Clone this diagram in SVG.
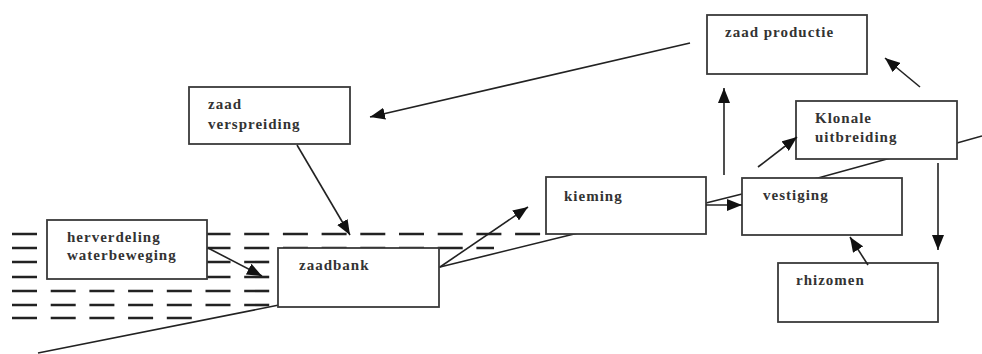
<svg xmlns="http://www.w3.org/2000/svg" width="982" height="354" viewBox="0 0 982 354">
<style>
.box{fill:#fff;stroke:#3a3a3a;stroke-width:1.8}
.t{font-family:"Liberation Serif","Times New Roman",serif;font-size:15px;font-weight:bold;fill:#333;letter-spacing:1px}
.water{stroke:#222;stroke-width:2.6;stroke-dasharray:25 13.7;fill:none}
.ground{stroke:#222;stroke-width:1.6;fill:none}
.c{stroke:#222;stroke-width:1.6;fill:none;marker-end:url(#ah)}
</style>
<defs>
<marker id="ah" markerUnits="userSpaceOnUse" markerWidth="16" markerHeight="12" refX="15" refY="6" orient="auto">
<path d="M0,0 L15,6 L0,12 z" fill="#111"/>
</marker>
</defs>
<g id="water">
<line class="water" x1="12" y1="234" x2="546" y2="234"/>
<line class="water" x1="12" y1="248" x2="494" y2="248"/>
<line class="water" x1="12" y1="262" x2="278" y2="262"/>
<line class="water" x1="12" y1="277" x2="278" y2="277"/>
<line class="water" x1="12" y1="291" x2="278" y2="291"/>
<line class="water" x1="12" y1="305" x2="278" y2="305"/>
<line class="water" x1="12" y1="318" x2="192" y2="318"/>
</g>
<polyline id="ground" class="ground" points="38,353 279,305 440,267 570,235 706,203 742,194 818,178 887,159 957,143 982,136"/>
<g id="herverdeling">
<rect class="box" x="47" y="220" width="160" height="59"/>
<text class="t" x="67" y="242">herverdeling</text>
<text class="t" x="67" y="260">waterbeweging</text>
</g>
<g id="zaadbank">
<rect class="box" x="278" y="248" width="161" height="59"/>
<text class="t" x="299" y="270">zaadbank</text>
</g>
<g id="kieming">
<rect class="box" x="546" y="177" width="160" height="57"/>
<text class="t" x="564" y="201">kieming</text>
</g>
<g id="vestiging">
<rect class="box" x="742" y="178" width="160" height="57"/>
<text class="t" x="763" y="200">vestiging</text>
</g>
<g id="klonale">
<rect class="box" x="796" y="101" width="161" height="58"/>
<text class="t" x="815" y="123">Klonale</text>
<text class="t" x="815" y="142">uitbreiding</text>
</g>
<g id="zaadproductie">
<rect class="box" x="707" y="15" width="160" height="59"/>
<text class="t" x="725" y="37">zaad productie</text>
</g>
<g id="rhizomen">
<rect class="box" x="778" y="263" width="160" height="59"/>
<text class="t" x="796" y="285">rhizomen</text>
</g>
<g id="zaadverspreiding">
<rect class="box" x="189" y="87" width="161" height="57"/>
<text class="t" x="208" y="109">zaad</text>
<text class="t" x="208" y="129">verspreiding</text>
</g>
<g id="connectors">
<line class="c" x1="690" y1="43" x2="370" y2="117"/>
<line class="c" x1="297" y1="145" x2="350" y2="235"/>
<line class="c" x1="208" y1="248" x2="262" y2="276"/>
<line class="c" x1="440" y1="267" x2="528" y2="207"/>
<line class="c" x1="706" y1="205" x2="742" y2="205"/>
<line class="c" x1="724" y1="175" x2="724" y2="88"/>
<line class="c" x1="758" y1="167" x2="797" y2="137"/>
<line class="c" x1="920" y1="87" x2="885" y2="58"/>
<line class="c" x1="938" y1="163" x2="938" y2="250"/>
<line class="c" x1="868" y1="265" x2="850" y2="237"/>
</g>
</svg>
